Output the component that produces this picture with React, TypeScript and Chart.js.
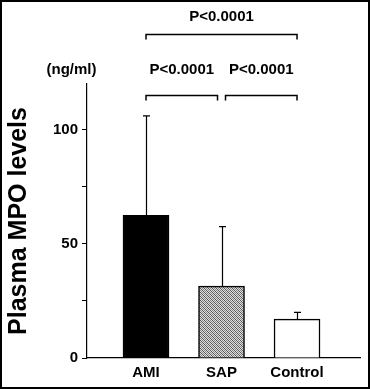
import React, { useEffect, useRef } from "react";
import { Chart, registerables } from "chart.js";

Chart.register(...registerables);

// ---- data ----
const categories = ["AMI", "SAP", "Control"];
const positions = [1, 2, 3];
const means = [62.5, 31.5, 17];
const sdUpper = [43.5, 26, 3];
const yTicks = [0, 25, 50, 75, 100];
const yTickLabels = ["0", "", "50", "", "100"];
const unitLabel = "(ng/ml)";
const yTitle = "Plasma MPO levels";
// comparisons (indices into categories)
const compFrom = [0, 0, 1];
const compTo = [2, 1, 2];
const compText = ["P<0.0001", "P<0.0001", "P<0.0001"];
const compBracketY = [141.7, 115.2, 115.2];
const compTextY = [147.6, 124.4, 124.4];

const FONT = '"Liberation Sans", Arial, Helvetica, sans-serif';

function makePattern(): CanvasPattern | string {
  const c = document.createElement("canvas");
  c.width = 4;
  c.height = 4;
  const g = c.getContext("2d");
  if (!g) return "#aaa";
  g.fillStyle = "#dcdcdc";
  g.fillRect(0, 0, 4, 4);
  for (let y = 0; y < 4; y++) {
    for (let x = 0; x < 4; x++) {
      if ((x + y) % 2 === 0) {
        g.fillStyle = (x - y + 4) % 4 === 0 ? "#555" : "#8a8a8a";
        g.fillRect(x, y, 1, 1);
      }
    }
  }
  const p = g.createPattern(c, "repeat");
  return p || "#aaa";
}

const framePlugin = {
  id: "frame",
  afterDraw(chart: any) {
    const ctx = chart.ctx;
    ctx.save();
    ctx.strokeStyle = "#000";
    ctx.lineWidth = 2;
    ctx.strokeRect(1, 1, chart.width - 2, chart.height - 2);
    ctx.restore();
  },
};

const errorBarPlugin = {
  id: "errorBars",
  afterDatasetsDraw(chart: any) {
    const ctx = chart.ctx;
    const yScale = chart.scales.y;
    const meta = chart.getDatasetMeta(0);
    ctx.save();
    ctx.strokeStyle = "#000";
    ctx.lineWidth = 1.2;
    meta.data.forEach((bar: any, i: number) => {
      const x = Math.round(bar.x) + 0.5;
      const yTop = yScale.getPixelForValue(means[i] + sdUpper[i]);
      const yBar = yScale.getPixelForValue(means[i]);
      ctx.beginPath();
      ctx.moveTo(x, yBar);
      ctx.lineTo(x, yTop);
      ctx.moveTo(x - 3.5, yTop);
      ctx.lineTo(x + 3.5, yTop);
      ctx.stroke();
    });
    ctx.restore();
  },
};

const bracketPlugin = {
  id: "brackets",
  afterDraw(chart: any) {
    const ctx = chart.ctx;
    const xs = chart.scales.x;
    const ys = chart.scales.y;
    const last = categories.length - 1;
    ctx.save();
    ctx.strokeStyle = "#000";
    ctx.fillStyle = "#000";
    ctx.lineWidth = 1.5;
    ctx.font = `bold 15px ${FONT}`;
    ctx.textAlign = "center";
    ctx.textBaseline = "alphabetic";
    compFrom.forEach((f, i) => {
      const t = compTo[i];
      let x1 = xs.getPixelForValue(positions[f]);
      let x2 = xs.getPixelForValue(positions[t]);
      if (t - f === 1) {
        if (f !== 0) x1 += 4;
        if (t !== last) x2 -= 4;
      }
      const y = Math.round(ys.getPixelForValue(compBracketY[i])) + 0.5;
      ctx.beginPath();
      ctx.moveTo(x1, y + 5);
      ctx.lineTo(x1, y);
      ctx.lineTo(x2, y);
      ctx.lineTo(x2, y + 5);
      ctx.stroke();
      ctx.fillText(compText[i], (x1 + x2) / 2, ys.getPixelForValue(compTextY[i]));
    });
    // unit label
    ctx.fillText(unitLabel, chart.chartArea.left - 15.5, ys.getPixelForValue(compTextY[1]));
    ctx.restore();
  },
};

export default function App() {
  const ref = useRef<HTMLCanvasElement | null>(null);
  useEffect(() => {
    if (!ref.current) return;
    Chart.defaults.font.family = FONT;
    const pattern = makePattern();
    const chart = new Chart(ref.current, {
      type: "bar",
      data: {
        datasets: [
          {
            data: positions.map((x, i) => ({ x, y: means[i] })),
            backgroundColor: ["#000", pattern, "#fff"] as any,
            borderColor: "#000",
            borderWidth: 1.5,
            barThickness: 46,
          },
        ],
      },
      options: {
        animation: false,
        responsive: false,
        devicePixelRatio: 1,
        layout: { padding: { top: 84, right: 10, left: 0, bottom: 0 } },
        plugins: {
          legend: { display: false },
          tooltip: { enabled: false },
          title: { display: false },
        },
        scales: {
          x: {
            type: "linear",
            offset: false,
            min: 0.2185,
            max: 3.834,
            grid: { display: false, drawTicks: false, offset: false },
            border: { display: true, color: "#000", width: 1.2 },
            afterBuildTicks: (s: any) => {
              s.ticks = positions.map((v) => ({ value: v }));
            },
            afterFit: (s: any) => {
              s.height = 31;
            },
            ticks: {
              autoSkip: false,
              maxRotation: 0,
              padding: 6,
              color: "#000",
              font: { size: 15, weight: "bold", family: FONT },
              callback: (v: any) => {
                const k = positions.indexOf(Number(v));
                return k >= 0 ? categories[k] : "";
              },
            },
          },
          y: {
            min: 0,
            max: 120,
            afterBuildTicks: (s: any) => {
              s.ticks = yTicks.map((v) => ({ value: v }));
            },
            afterFit: (s: any) => {
              s.width = 87;
            },
            grid: {
              display: true,
              drawOnChartArea: false,
              drawTicks: true,
              tickLength: 5,
              color: "#000",
              lineWidth: 1,
            },
            border: { display: true, color: "#000", width: 1.2 },
            ticks: {
              padding: 4,
              color: "#000",
              font: { size: 15, weight: "bold", family: FONT },
              callback: (v: any) => {
                const k = yTicks.indexOf(Number(v));
                return k >= 0 ? yTickLabels[k] : "";
              },
            },
            title: {
              display: true,
              text: yTitle,
              color: "#000",
              font: { size: 25, weight: "bold", family: FONT, lineHeight: 1 },
              padding: { top: 6.5, bottom: 0 },
            },
          },
        },
      } as any,
      plugins: [errorBarPlugin, bracketPlugin, framePlugin],
    });
    return () => chart.destroy();
  }, []);
  return (
    <div style={{ position: "fixed", left: 0, top: 0, width: 370, height: 389, background: "#fff" }}>
      <canvas ref={ref} width={370} height={389} style={{ display: "block", width: 370, height: 389 }} />
    </div>
  );
}
